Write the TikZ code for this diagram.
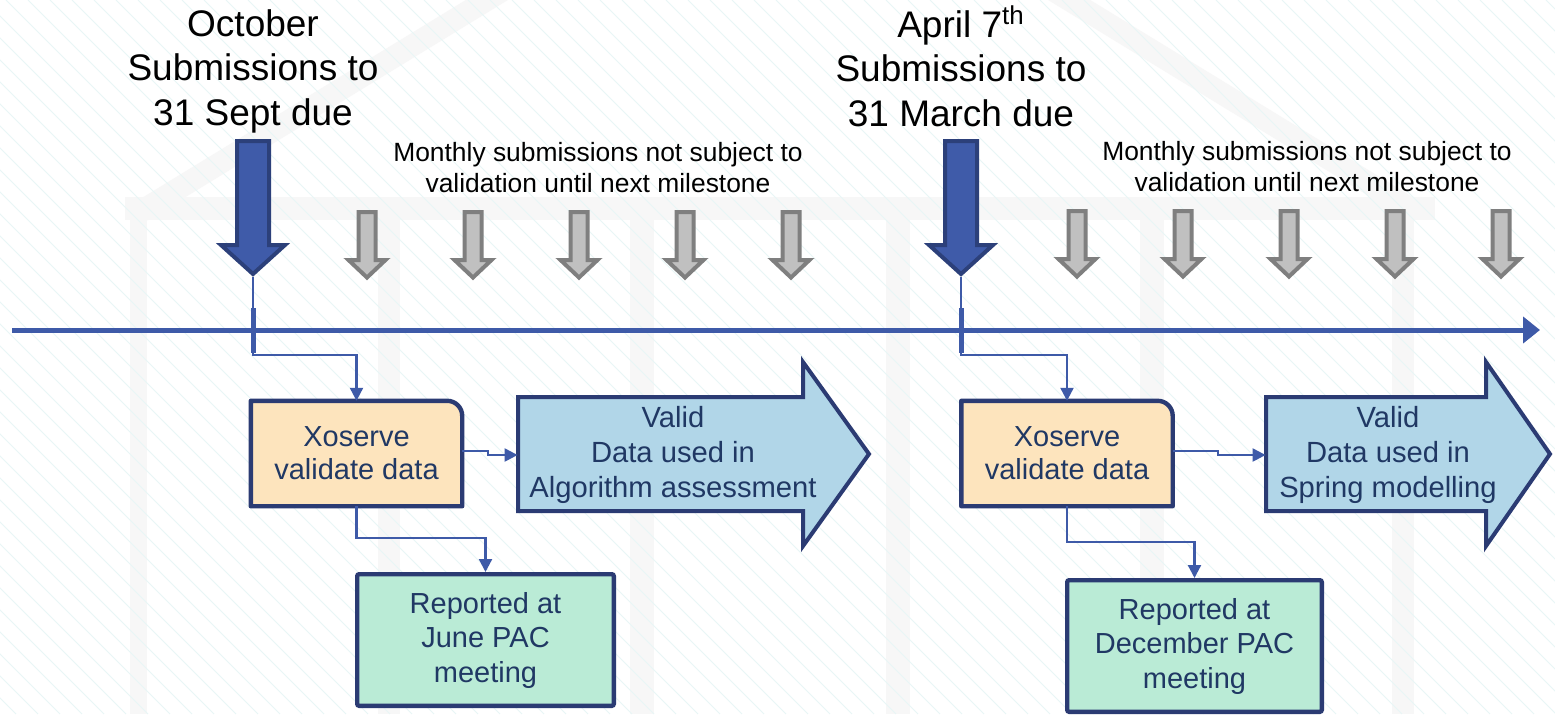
\documentclass[tikz,border=0pt]{standalone}
\usepackage{fontspec}
\setmainfont{Liberation Sans}
\usetikzlibrary{arrows.meta,calc}
\pgfdeclarelayer{bgl}
\pgfdeclarelayer{shp}
\pgfsetlayers{bgl,shp,main}

\definecolor{navy}{RGB}{43,59,115}
\definecolor{tline}{RGB}{62,90,168}
\definecolor{bigfill}{RGB}{63,91,169}
\definecolor{bigdraw}{RGB}{44,64,122}
\definecolor{grayfill}{RGB}{192,192,192}
\definecolor{graydraw}{RGB}{127,127,127}
\definecolor{ofill}{RGB}{253,228,189}
\definecolor{bfill}{RGB}{177,214,232}
\definecolor{gfill}{RGB}{186,235,214}
\definecolor{boxtext}{RGB}{32,56,100}
\definecolor{bgband}{RGB}{247,247,247}
\definecolor{hatchc}{RGB}{232,246,246}

\tikzset{
  bigdown/.pic={\draw[line width=2pt,draw=bigdraw,fill=bigfill,line join=miter]
     (-16,-136) -- (16,-136) -- (16,-32) -- (32,-32) -- (0,-3) -- (-32,-32) -- (-16,-32) -- cycle;},
  graydown/.pic={\draw[line width=2pt,draw=graydraw,fill=grayfill,line join=miter]
     (-8.5,-68) -- (8.5,-68) -- (8.5,-20) -- (18.5,-20) -- (0,-2.5) -- (-18.5,-20) -- (-8.5,-20) -- cycle;},
  titletxt/.style={font=\fontsize{18.5}{22.25}\selectfont, align=center, inner sep=0pt, text=black},
  notetxt/.style={font=\fontsize{13.2}{15.5}\selectfont, align=center, inner sep=0pt, text=black},
  otxt/.style={font=\fontsize{14.5}{16.5}\selectfont, align=center, inner sep=0pt, text=boxtext,
     minimum width=105.3pt, minimum height=52.3pt},
  atxt/.style={font=\fontsize{14.6}{17.5}\selectfont, align=center, inner sep=0pt, text=boxtext,
     minimum height=57pt},
  gbox/.style={font=\fontsize{14.5}{17.25}\selectfont, align=center, inner sep=0pt, text=boxtext,
     draw=navy, fill=gfill, line width=2.2pt, rounded corners=1pt, minimum height=65.8pt},
  obox/.style={draw=navy, fill=ofill, line width=2.2pt, line join=round},
  barrow/.style={draw=navy, fill=bfill, line width=2pt, line join=miter},
  conn/.style={draw=tline, line width=1.1pt, -{Triangle[length=6.5pt,width=6.5pt]}},
  tick/.style={draw=tline, line width=2.5pt},
  timeline/.style={draw=tline, line width=2.5pt, -{Triangle[length=8.5pt,width=13pt]}}
}

\begin{document}
\begin{tikzpicture}[x=0.5pt,y=-0.5pt]
\useasboundingbox (0,0) rectangle (1555,714);

% ---------- faint background ----------
\begin{pgfonlayer}{bgl}
  \begin{scope}
    \clip (0,0) rectangle (1555,714);
    \fill[white] (0,0) rectangle (1555,714);
    \draw[bgband, line width=11pt, line cap=butt] (140,212) -- (778,-178) -- (1416,212);
    \fill[bgband] (125,197) rectangle (1435,220);
    \foreach \a/\b in {130/147, 378/400, 630/654, 886/910, 1140/1164, 1392/1414}
      \fill[bgband] (\a,220) rectangle (\b,714);
    \foreach \i in {-720,-698,...,1570}
      \draw[hatchc, line width=0.5pt] (\i,0) -- ++(714,714);
  \end{scope}
\end{pgfonlayer}

% ---------- titles ----------
\node[titletxt] (t1) at (253,71) {October\\Submissions to\\31 Sept due};
\node[titletxt] (t2) at (961,66.5) {April 7\textsuperscript{th}\\Submissions to\\31 March due};
\node[notetxt] (n1) at (598,168) {Monthly submissions not subject to\\validation until next milestone};
\node[notetxt] (n2) at (1307,167) {Monthly submissions not subject to\\validation until next milestone};

% ---------- milestone arrows ----------
\coordinate (m1) at (253,277);
\coordinate (m2) at (961,277);
\pic at (m1) {bigdown};
\pic at (m2) {bigdown};

\foreach \gx in {367,473,579,685,791}
  \pic at (\gx,280) {graydown};
\foreach \gx in {1077,1183,1289,1395,1501}
  \pic at (\gx,279) {graydown};

% ---------- timeline ----------
\coordinate (tl0) at (12,330);
\coordinate (tl1) at (1540,330);
\draw[timeline] (tl0) -- (tl1);
\draw[tick] (253,308) -- (253,353);
\draw[tick] (961,308) -- (961,353);

% ---------- boxes ----------
\node[otxt] (xo1) at (356.5,453.5) {Xoserve\\validate data};
\node[otxt] (xo2) at (1067,453.5) {Xoserve\\validate data};
\begin{pgfonlayer}{shp}
  \draw[obox] (xo1.south west) -- (xo1.north west) -- ([xshift=-7.5pt]xo1.north east)
     arc[start angle=90, end angle=0, radius=7.5pt] -- (xo1.south east) -- cycle;
  \draw[obox] (xo2.south west) -- (xo2.north west) -- ([xshift=-7.5pt]xo2.north east)
     arc[start angle=90, end angle=0, radius=7.5pt] -- (xo2.south east) -- cycle;
  \draw[barrow] (518,397) -- (803,397) -- (803,362) -- (869,454) -- (803,546) -- (803,511) -- (518,511) -- cycle;
  \draw[barrow] (1266,397) -- (1486,397) -- (1486,362) -- (1550,454) -- (1486,546) -- (1486,511) -- (1266,511) -- cycle;
\end{pgfonlayer}

\node[atxt, minimum width=155pt] (va1) at (673,455) {Valid\\Data used in\\Algorithm assessment};
\node[atxt, minimum width=122pt] (va2) at (1388,455) {Valid\\Data used in\\Spring modelling};

\node[gbox, minimum width=128.3pt] (rp1) at (485.5,640) {Reported at\\June PAC\\meeting};
\node[gbox, minimum width=127.3pt] (rp2) at (1194.5,646) {Reported at\\December PAC\\meeting};

% ---------- connectors ----------
\draw[conn] (m1) -- ++(0,78) -| (xo1.north);
\draw[conn] (m2) -- ++(0,78) -| (xo2.north);
\draw[conn] ([yshift=1.2pt]xo1.east) -- ++(26,0) |- (va1.west);
\draw[conn] ([yshift=1.2pt]xo2.east) -- ++(45,0) |- (va2.west);
\draw[conn] (xo1.south) -- ++(0,32) -| (rp1.north);
\draw[conn] (xo2.south) -- ++(0,36) -| (rp2.north);
\end{tikzpicture}
\end{document}
